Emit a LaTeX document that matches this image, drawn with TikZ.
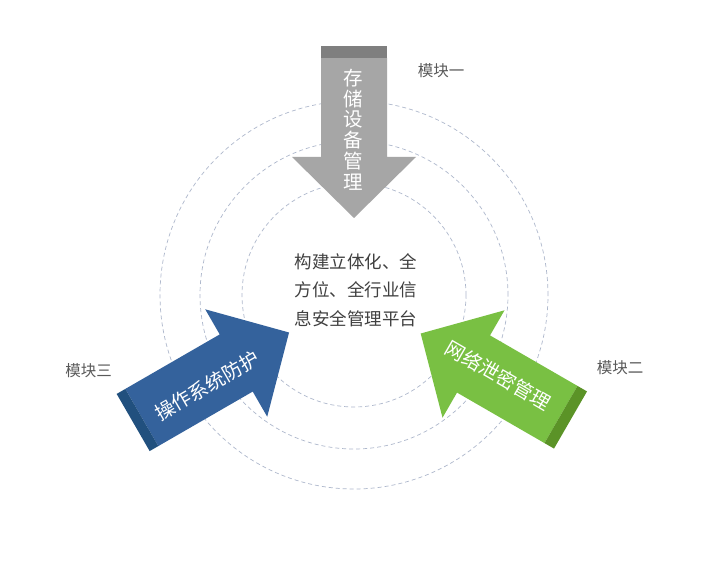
\documentclass[tikz,border=0pt]{standalone}
\usepackage{fontspec}
\setmainfont{Noto Sans CJK SC}
\definecolor{ringc}{HTML}{AEB8CC}
\definecolor{grayA}{HTML}{A6A6A6}
\definecolor{grayB}{HTML}{7F7F7F}
\definecolor{blueA}{HTML}{34629C}
\definecolor{blueB}{HTML}{21507E}
\definecolor{greenA}{HTML}{79C043}
\definecolor{greenB}{HTML}{5B9327}
\definecolor{labc}{HTML}{595959}
\definecolor{ctrc}{HTML}{404040}
\newcommand\blockarrow[6]{%
  \begin{scope}[shift={(C)}, rotate=#1]
    \fill[#5] (#2,0) -- (#2+61,62) -- (#2+61,33) -- (#3-#4,33) -- (#3-#4,-33)
      -- (#2+61,-33) -- (#2+61,-62) -- cycle;
    \fill[#6] (#3-#4,33) rectangle (#3,-33);
  \end{scope}}
\begin{document}
\begin{tikzpicture}[x=1pt,y=1pt,
  ring/.style={draw=ringc, dash pattern=on 4pt off 3pt, line width=0.7pt},
  lbl/.style={text=labc, font=\fontsize{15.5}{18}\selectfont, inner sep=0pt},
  arrtxt/.style={text=white, font=\fontsize{19.5}{20.8}\selectfont, inner sep=0pt},
  ctrtxt/.style={text=ctrc, font=\fontsize{17.5}{28.5}\selectfont, align=center, inner sep=0pt}]
\useasboundingbox (0,0) rectangle (725,-561);
\fill[white] (0,0) rectangle (725,-561);
\coordinate (C) at (354,-295);
\draw[ring] (C) circle (194);
\draw[ring] (C) circle (154);
\draw[ring] (C) circle (112);
% arrows
\blockarrow{90}{77}{249}{12}{grayA}{grayB}
\blockarrow{210}{75}{255}{10}{blueA}{blueB}
\blockarrow{-30}{77}{250}{11}{greenA}{greenB}
% texts
\node[arrtxt, align=center] (t1) at (353,-129.5) {存\\储\\设\\备\\管\\理};
\node[arrtxt, rotate=30] (t3) at (207,-386) {操作系统防护};
\node[arrtxt, rotate=-30] (t2) at (498,-375) {网络泄密管理};
\node[ctrtxt] (ctr) at (356,-290) {构建立体化、全\\方位、全行业信\\息安全管理平台};
\node[lbl] (m1) at (441,-71) {模块一};
\node[lbl] (m2) at (620,-368) {模块二};
\node[lbl] (m3) at (88.5,-371) {模块三};
\end{tikzpicture}
\end{document}
